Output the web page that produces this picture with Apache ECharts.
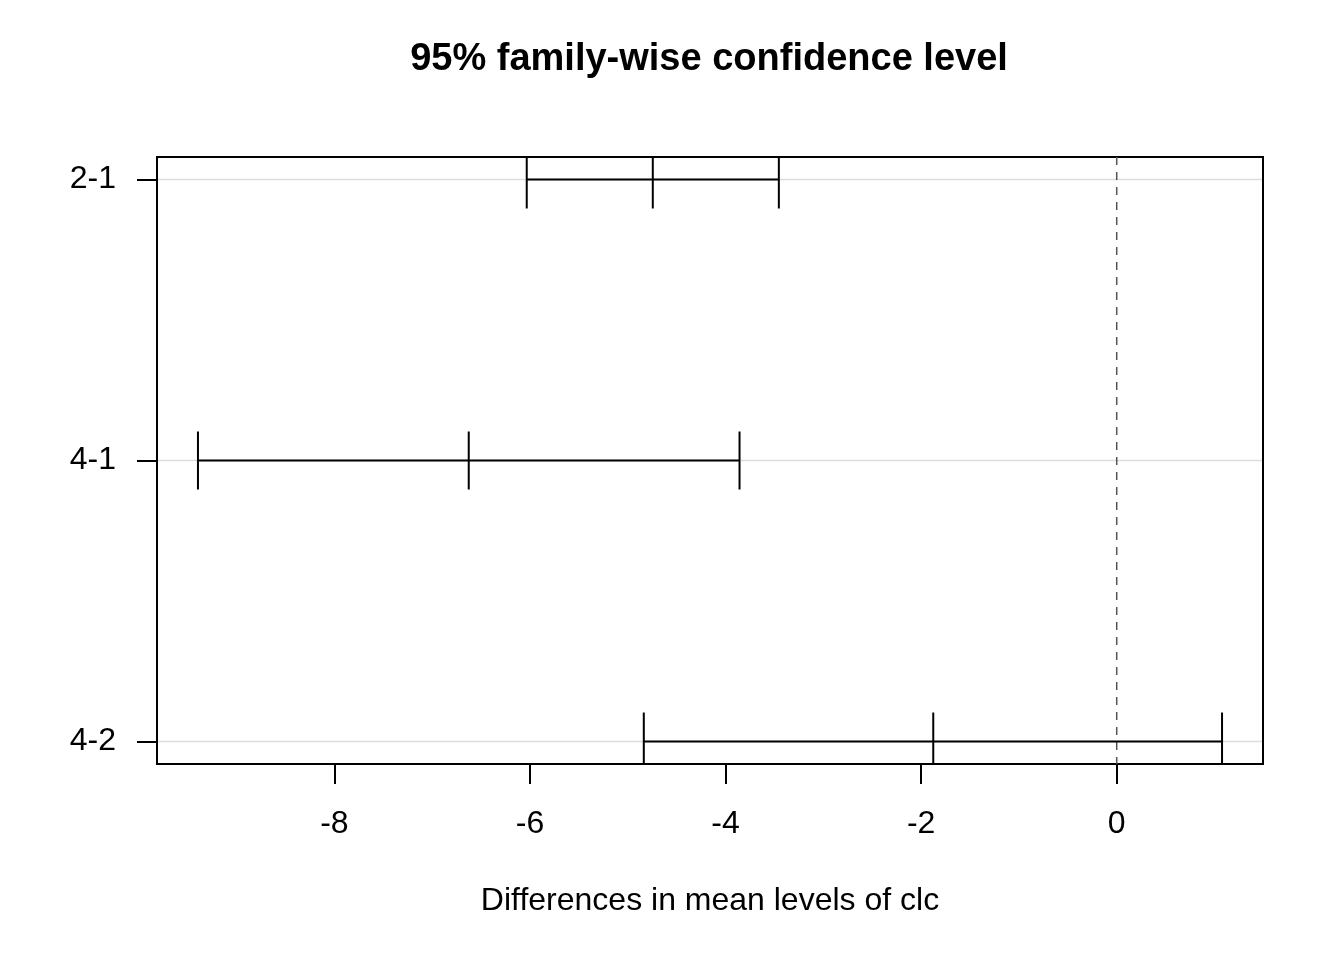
<!DOCTYPE html>
<html>
<head>
<meta charset="utf-8">
<script src="https://cdn.jsdelivr.net/npm/echarts@6/dist/echarts.min.js"></script>
<style>html,body{margin:0;padding:0;background:#fff;}#c{width:1344px;height:960px;}</style>
</head>
<body>
<div id="c"></div>
<script>
// Comparisons (top to bottom) and their Tukey HSD intervals
const comparisons = ['2-1', '4-1', '4-2'];
const diffs = [-4.744, -6.626, -1.876];
const lowers = [-6.033, -9.395, -4.836];
const uppers = [-3.455, -3.857, 1.077];
const xTicks = [-8, -6, -4, -2, 0];

const n = comparisons.length;
// y position: first comparison on top
const yPos = comparisons.map((c, i) => n - i);
const seriesData = comparisons.map((c, i) => [lowers[i], diffs[i], uppers[i], yPos[i]]);

const xLo = Math.min(...lowers), xHi = Math.max(...uppers);
const xPad = (xHi - xLo) * 0.04;
const yPad = (n - 1) * 0.04;

const FONT = '"Liberation Sans", Arial, Helvetica, sans-serif';
const chart = echarts.init(document.getElementById('c'));
chart.setOption({
  animation: false,
  backgroundColor: '#fff',
  title: {
    text: '95% family-wise confidence level',
    left: 704, top: 36, textAlign: 'center',
    textStyle: {fontFamily: FONT, fontSize: 38, fontWeight: 'bold', color: '#000'}
  },
  grid: {left: 157, right: 81, top: 157, bottom: 196, show: true, borderColor: '#000', borderWidth: 2, backgroundColor: 'transparent'},
  xAxis: {
    type: 'value', min: xLo - xPad, max: xHi + xPad,
    name: 'Differences in mean levels of clc', nameLocation: 'middle', nameGap: 121,
    nameTextStyle: {fontFamily: FONT, fontSize: 32, color: '#000'},
    axisLine: {show: false, onZero: false},
    axisTick: {show: true, customValues: xTicks, length: 20, lineStyle: {color: '#000', width: 2}},
    axisLabel: {customValues: xTicks, margin: 44, fontFamily: FONT, fontSize: 32, color: '#000'},
    splitLine: {show: false}
  },
  yAxis: {
    type: 'value', min: 1 - yPad, max: n + yPad,
    axisLine: {show: false, onZero: false},
    axisTick: {show: true, customValues: yPos, length: 20, lineStyle: {color: '#000', width: 2}},
    axisLabel: {customValues: yPos, margin: 41, fontFamily: FONT, fontSize: 32, color: '#000',
      padding: [10, 0, 0, 0],
      formatter: v => comparisons[n - Math.round(v)] || ''},
    splitLine: {show: false}
  },
  series: [
    {
      type: 'custom', silent: true, z: 1, clip: true,
      data: yPos.map(y => [0, y]),
      renderItem: function (params, api) {
        const y = api.value(1);
        const a = api.coord([xLo - xPad, y]);
        const b = api.coord([xHi + xPad, y]);
        return {type: 'line', shape: {x1: a[0] + 1, y1: a[1], x2: b[0] - 1, y2: b[1]}, style: {stroke: '#dcdcdc', lineWidth: 1.5}};
      }
    },
    {
      type: 'custom', silent: true, z: 2, clip: true,
      data: [[0]],
      renderItem: function (params, api) {
        const t = api.coord([0, n + yPad]);
        const b = api.coord([0, 1 - yPad]);
        return {type: 'line', shape: {x1: t[0], y1: t[1], x2: b[0], y2: b[1]}, style: {stroke: '#555', lineWidth: 1.5, lineDash: [8, 7]}};
      }
    },
    {
      type: 'custom', silent: true, z: 3, clip: true,
      data: seriesData,
      renderItem: function (params, api) {
        const y = api.value(3);
        const l = api.coord([api.value(0), y]);
        const m = api.coord([api.value(1), y]);
        const u = api.coord([api.value(2), y]);
        const h = 29;
        const st = {stroke: '#000', lineWidth: 2};
        return {type: 'group', children: [
          {type: 'line', shape: {x1: l[0], y1: l[1], x2: u[0], y2: u[1]}, style: st},
          {type: 'line', shape: {x1: l[0], y1: l[1] - h, x2: l[0], y2: l[1] + h}, style: st},
          {type: 'line', shape: {x1: m[0], y1: m[1] - h, x2: m[0], y2: m[1] + h}, style: st},
          {type: 'line', shape: {x1: u[0], y1: u[1] - h, x2: u[0], y2: u[1] + h}, style: st}
        ]};
      }
    }
  ]
});
</script>
</body>
</html>
